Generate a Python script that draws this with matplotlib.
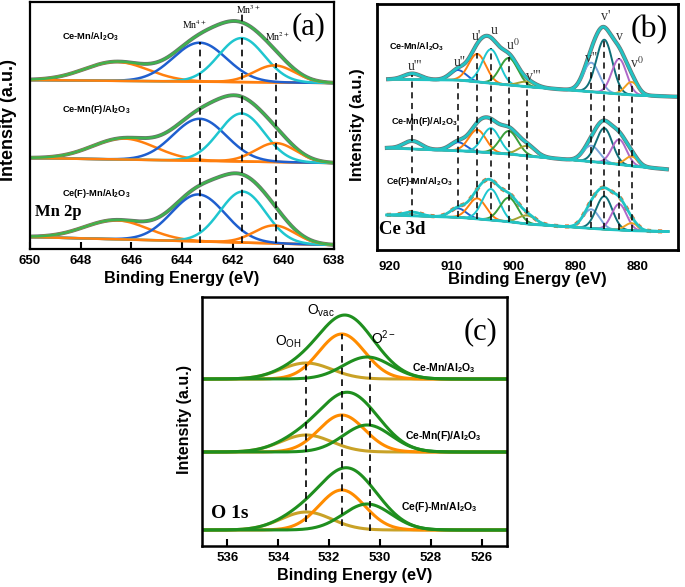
import numpy as np
import matplotlib.pyplot as plt

plt.rcParams['font.family'] = ['Liberation Sans', 'DejaVu Sans']
plt.rcParams['mathtext.fontset'] = 'custom'
plt.rcParams['mathtext.rm'] = 'Liberation Sans'
plt.rcParams['mathtext.it'] = 'Liberation Sans:italic'
plt.rcParams['mathtext.bf'] = 'Liberation Sans:bold'

samples = ["Ce-Mn/Al$_\\mathbf{2}$O$_\\mathbf{3}$",
           "Ce-Mn(F)/Al$_\\mathbf{2}$O$_\\mathbf{3}$",
           "Ce(F)-Mn/Al$_\\mathbf{2}$O$_\\mathbf{3}$"]

# (a) Mn 2p : satellite, Mn4+, Mn3+, Mn2+
mn_ticks = [650, 648, 646, 644, 642, 640, 638]
mn_centers = [[646.6, 643.3, 641.65, 640.35],
              [646.3, 643.3, 641.65, 640.3],
              [646.6, 643.35, 641.6, 640.35]]
mn_heights = [[19, 39, 44, 17],
              [21, 42, 48, 19],
              [19, 47, 51, 18]]
mn_sigma = [1.25, 1.05, 0.9, 0.8]
mn_base_left = [169, 91, 12]
mn_base_right = [166, 86, 4]
mn_colors = ["#ff7f0e", "#1f5fcf", "#1fc6cf", "#ff7f0e"]
mn_lines = [643.3, 641.65, 640.3]
mn_line_tops = [207, 236, 186]

# (b) Ce 3d : u''', u'', u', u, u0, v''', v'', v', v, v0
ce_ticks = [920, 910, 900, 890, 880]
ce_names = ["u'''", "u''", "u'", "u", "u$^{0}$", "v'''", "v''", "v'", "v", "v$^{0}$"]
ce_centers = [916.4, 909.0, 905.9, 903.7, 900.8, 897.9, 887.5, 885.4, 883.0, 881.0]
ce_sigma = [1.4, 1.3, 1.4, 1.4, 1.45, 1.4, 1.3, 1.3, 1.2, 1.05]
ce_heights = [[6.0, 10.0, 28.0, 34.0, 27.0, 5.0, 29.0, 53.0, 35.0, 13.0],
              [8.0, 8.5, 22.0, 24.5, 23.0, 10.0, 16.0, 34.5, 25.0, 9.5],
              [3.7, 9.0, 20.5, 31.0, 24.0, 8.5, 19.0, 33.0, 26.0, 7.5]]
ce_base_x = [920.3, 909.0, 903.7, 900.8, 897.9, 887.5, 885.4, 881.0, 874.0]
ce_base = [[170.7, 170.0, 166.7, 165.0, 163.3, 158.3, 157.3, 155.0, 153.3],
           [102.0, 99.3, 97.3, 96.0, 94.0, 88.3, 87.3, 84.0, 80.0],
           [35.0, 32.7, 30.0, 28.3, 26.0, 21.7, 20.7, 19.3, 18.3]]
ce_ranges = [(920.3, 873.6), (920.5, 875.3), (920.5, 875.1)]
ce_colors = ["#45b5d8", "#1f5fcf", "#ff7f0e", "#1fc6cf", "#3a9e3a",
             "#a3a332", "#7aa6dc", "#0f6f78", "#b068c8", "#f0a020"]
ce_line_tops = [175, 167, 197, 202, 193, 168, 183, 212, 192, 168]

# (c) O 1s : O_OH, O_vac, O2-
o_ticks = [536, 534, 532, 530, 528, 526]
o_centers = [532.9, 531.5, 530.5]
o_sigma = [1.0, 0.9, 0.95]
o_heights = [[16, 45, 22],
             [17, 37, 27],
             [18, 40, 26]]
o_baselines = [167, 94, 16]
o_colors = ["#c9a227", "#ff8c00", "#1f8f1f"]
o_lines = [532.9, 531.5, 530.4]
o_line_tops = [182, 212, 189]
o_line_bots = [24, 20, 15]


def gauss(x, c, h, s):
    return h * np.exp(-(x - c) ** 2 / (2 * s ** 2))


fig = plt.figure(figsize=(6.85, 5.87), dpi=100)
ax_a = fig.add_axes([30 / 685, 1 - 249 / 587, 304 / 685, 247 / 587])
ax_b = fig.add_axes([377 / 685, 1 - 250 / 587, 301 / 685, 246 / 587])
ax_c = fig.add_axes([202 / 685, 1 - 546 / 587, 305 / 685, 249 / 587])

dash = (0, (4, 3))
serif = ['Liberation Serif', 'DejaVu Serif']

# ---------- (a) ----------
x = np.linspace(650, 638, 600)
for i in range(3):
    base = np.interp(x, [638, 650], [mn_base_right[i], mn_base_left[i]])
    comps = [gauss(x, c, h, s) for c, h, s in zip(mn_centers[i], mn_heights[i], mn_sigma)]
    env = base + sum(comps)
    ax_a.plot(x, env, color="#6e6e6e", lw=2.8)
    ax_a.plot(x, base, color="#ff7f0e", lw=1.8)
    for comp, col in zip(comps, mn_colors):
        ax_a.plot(x, base + comp, color=col, lw=1.8)
    ax_a.plot(x, env, color="#3fb14f", lw=1.8)
for xl, top in zip(mn_lines, mn_line_tops):
    ax_a.plot([xl, xl], [6, top], color="black", lw=1.2, ls=dash)

ax_a.text(643.5, 224, "Mn$^{4+}$", family=serif, math_fontfamily='stix', fontsize=7, ha='center', va='center')
ax_a.text(641.38, 239, "Mn$^{3+}$", family=serif, math_fontfamily='stix', fontsize=7, ha='center', va='center')
ax_a.text(640.24, 212, "Mn$^{2+}$", family=serif, math_fontfamily='stix', fontsize=7, ha='center', va='center')
ax_a.text(639.0, 222, "(a)", family=serif, fontsize=22, ha='center', va='center')
ax_a.text(648.9, 37, "Mn 2p", family=serif, fontweight='bold', fontsize=12, ha='center', va='center')
for txt, xy in zip(samples, [(647.6, 212), (647.37, 139), (647.37, 56)]):
    ax_a.text(xy[0], xy[1], txt, fontsize=6.7, fontweight='bold', ha='center', va='center')

ax_a.set_xlim(650, 638)
ax_a.set_ylim(0, 247)
ax_a.set_xticks(mn_ticks)
ax_a.set_yticks([])
ax_a.tick_params(axis='x', direction='in', length=5, width=1.5, labelsize=9.5, pad=4)
ax_a.set_xlabel("Binding Energy (eV)", fontsize=11.7, fontweight='bold')
ax_a.set_ylabel("Intensity (a.u.)", fontsize=13, fontweight='bold')
ax_a.xaxis.set_label_coords(0.5, -0.09)
ax_a.yaxis.set_label_coords(-0.042, 0.524)

# ---------- (b) ----------
for i in range(3):
    xb = np.linspace(ce_ranges[i][0], ce_ranges[i][1], 800)
    base = np.interp(xb, ce_base_x[::-1], ce_base[i][::-1])
    comps = [gauss(xb, c, h, s) for c, h, s in zip(ce_centers, ce_heights[i], ce_sigma)]
    env = base + sum(comps)
    if i < 2:
        ax_b.plot(xb, env, color="#707070", lw=3.0)
    else:
        ax_b.plot(xb, env, color="#e0702a", lw=3.0, ls=':')
    for comp, col in zip(comps, ce_colors):
        ax_b.plot(xb, base + comp, color=col, lw=1.4)
    ax_b.plot(xb, base, color="#22c4c4", lw=2.0)
    ax_b.plot(xb, env, color="#22c4c4", lw=2.0)
line_bots = np.interp(ce_centers, ce_base_x[::-1], ce_base[2][::-1])
for xl, top, bot in zip(ce_centers, ce_line_tops, line_bots):
    ax_b.plot([xl, xl], [bot, top], color="black", lw=1.1, ls=dash)

name_pos = [(916.0, 184), (908.7, 187), (906.0, 213), (903.1, 219), (900.1, 205),
            (896.9, 174), (887.5, 192), (885.2, 233), (883.0, 213), (880.2, 187)]
for name, xy in zip(ce_names, name_pos):
    ax_b.text(xy[0], xy[1], name, family=serif, math_fontfamily='stix', fontsize=10,
              ha='center', va='center', color="#333333")
ax_b.text(878.1, 220, "(b)", family=serif, fontsize=23, ha='center', va='center')
ax_b.text(918.1, 20, "Ce 3d", family=serif, fontweight='bold', fontsize=13.5, ha='center', va='center')
for txt, xy in zip(samples, [(915.7, 203), (914.4, 129), (915.2, 68)]):
    ax_b.text(xy[0], xy[1], txt, fontsize=6.5, fontweight='bold', ha='center', va='center')

ax_b.set_xlim(922.1, 873.5)
ax_b.set_ylim(0, 246)
ax_b.set_xticks(ce_ticks)
ax_b.set_yticks([])
ax_b.tick_params(axis='x', length=0, labelsize=9.5, pad=8)
ax_b.set_xlabel("Binding Energy (eV)", fontsize=12, fontweight='bold')
ax_b.set_ylabel("Intensity (a.u.)", fontsize=12, fontweight='bold')
ax_b.xaxis.set_label_coords(0.5, -0.09)
ax_b.yaxis.set_label_coords(-0.04, 0.508)

# ---------- (c) ----------
xc = np.linspace(537, 525, 600)
for i in range(3):
    base = np.full_like(xc, o_baselines[i])
    comps = [gauss(xc, c, h, s) for c, h, s in zip(o_centers, o_heights[i], o_sigma)]
    env = base + sum(comps)
    for comp, col in zip(comps, o_colors):
        ax_c.plot(xc, base + comp, color=col, lw=2.2)
    ax_c.plot(xc, env, color="#1f8f1f", lw=2.2)
for xl, top, bot in zip(o_lines, o_line_tops, o_line_bots):
    ax_c.plot([xl, xl], [bot, top], color="black", lw=1.2, ls=dash)

ax_c.text(533.6, 204, "O$_{\\mathrm{OH}}$", fontsize=10, ha='center', va='center')
ax_c.text(532.34, 235, "O$_{\\mathrm{vac}}$", fontsize=10, ha='center', va='center')
ax_c.text(529.85, 208, "O$^{\\mathrm{2-}}$", fontsize=10, ha='center', va='center')
ax_c.text(526.05, 214, "(c)", family=serif, fontsize=22, ha='center', va='center')
ax_c.text(535.9, 32, "O 1s", family=serif, fontweight='bold', fontsize=14, ha='center', va='center')
for txt, xy in zip(samples, [(527.5, 178), (527.5, 110), (527.67, 39)]):
    ax_c.text(xy[0], xy[1], txt, fontsize=7.5, fontweight='bold', ha='center', va='center')

ax_c.set_xlim(537, 525)
ax_c.set_ylim(0, 249)
ax_c.set_xticks(o_ticks)
ax_c.set_yticks([])
ax_c.tick_params(axis='x', direction='in', length=5, width=1.5, labelsize=9.5, pad=4)
ax_c.set_xlabel("Binding Energy (eV)", fontsize=11.7, fontweight='bold')
ax_c.set_ylabel("Intensity (a.u.)", fontsize=11.5, fontweight='bold')
ax_c.xaxis.set_label_coords(0.5, -0.09)
ax_c.yaxis.set_label_coords(-0.033, 0.51)

for ax, w in [(ax_a, 1.6), (ax_b, 2.0), (ax_c, 1.8)]:
    for sp in ax.spines.values():
        sp.set_linewidth(w)
    for lab in ax.get_xticklabels():
        lab.set_fontweight('bold')

fig.savefig("out.png", dpi=100)
